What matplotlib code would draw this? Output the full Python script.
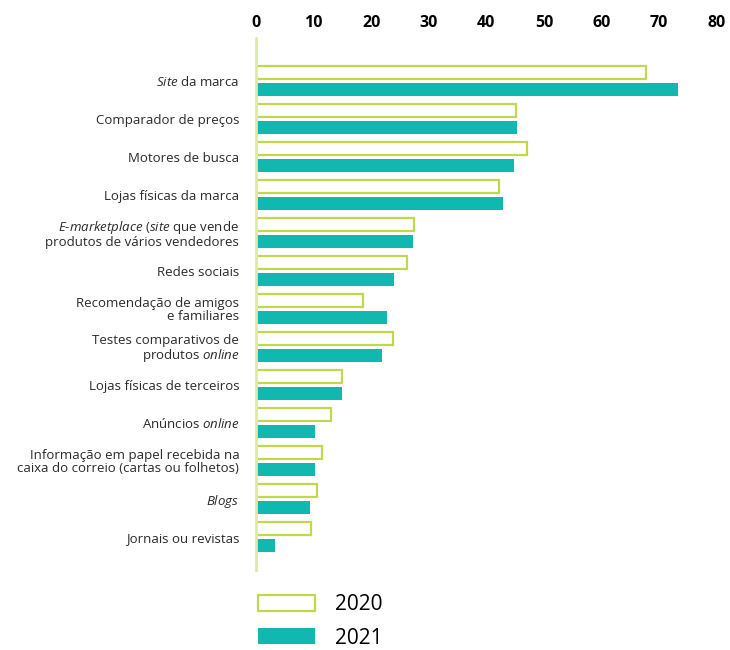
import matplotlib.pyplot as plt
from matplotlib.patches import Patch
import numpy as np

plt.rcParams['font.family'] = ['Open Sans', 'DejaVu Sans']
plt.rcParams['mathtext.fontset'] = 'custom'
plt.rcParams['mathtext.rm'] = 'Open Sans'
plt.rcParams['mathtext.it'] = 'Open Sans:italic'

categories = [
    r"$\it{Site}$ da marca",
    "Comparador de preços",
    "Motores de busca",
    "Lojas físicas da marca",
    "$\\it{E}$-$\\it{marketplace}$ ($\\it{site}$ que vende\nprodutos de vários vendedores",
    "Redes sociais",
    "Recomendação de amigos\ne familiares",
    "Testes comparativos de\nprodutos $\\it{online}$",
    "Lojas físicas de terceiros",
    r"Anúncios $\it{online}$",
    "Informação em papel recebida na\ncaixa do correio (cartas ou folhetos)",
    r"$\it{Blogs}$",
    "Jornais ou revistas",
]
v2020 = [67.7, 45.2, 47.0, 42.2, 27.4, 26.3, 18.6, 23.8, 15.0, 13.0, 11.4, 10.6, 9.5]
v2021 = [73.2, 45.3, 44.8, 42.9, 27.3, 24.0, 22.8, 21.8, 14.9, 10.3, 10.3, 9.4, 3.3]
years = ["2020", "2021"]

green = '#C2D84C'
teal = '#10B8B0'

fig = plt.figure(figsize=(7.3, 6.5), dpi=100)
ax = fig.add_axes([256 / 730, 80 / 650, 460.7 / 730, 532 / 650])

y = np.arange(len(categories))
h = 0.34
ax.barh(y - 0.22, v2020, height=h, color='white', edgecolor=green, linewidth=1.6)
ax.barh(y + 0.22, v2021, height=h, color=teal, edgecolor='none')

ax.set_xlim(0, 80)
ax.set_ylim(12.87, -1.13)
ax.xaxis.tick_top()
ax.set_xticks(range(0, 90, 10))
ax.tick_params(axis='x', length=0, pad=5, labelsize=11.5)
for t in ax.get_xticklabels():
    t.set_fontweight('bold')
ax.set_yticks(y)
ax.set_yticklabels(categories, fontsize=9.5, color='#2a2a2a', linespacing=1.0)
ax.tick_params(axis='y', length=0, pad=12)

for s in ['top', 'right', 'bottom']:
    ax.spines[s].set_visible(False)
ax.spines['left'].set_color('#DCEAA8')
ax.spines['left'].set_linewidth(2)

handles = [Patch(facecolor='white', edgecolor=green, linewidth=1.6),
           Patch(facecolor=teal, edgecolor='none')]
fig.legend(handles, years, loc='upper left', bbox_to_anchor=(258 / 730, 1 - 594 / 650),
           frameon=False, fontsize=15, borderpad=0, borderaxespad=0,
           handlelength=2.75, handleheight=0.82, handletextpad=0.95, labelspacing=0.6)

plt.savefig('out.png')
